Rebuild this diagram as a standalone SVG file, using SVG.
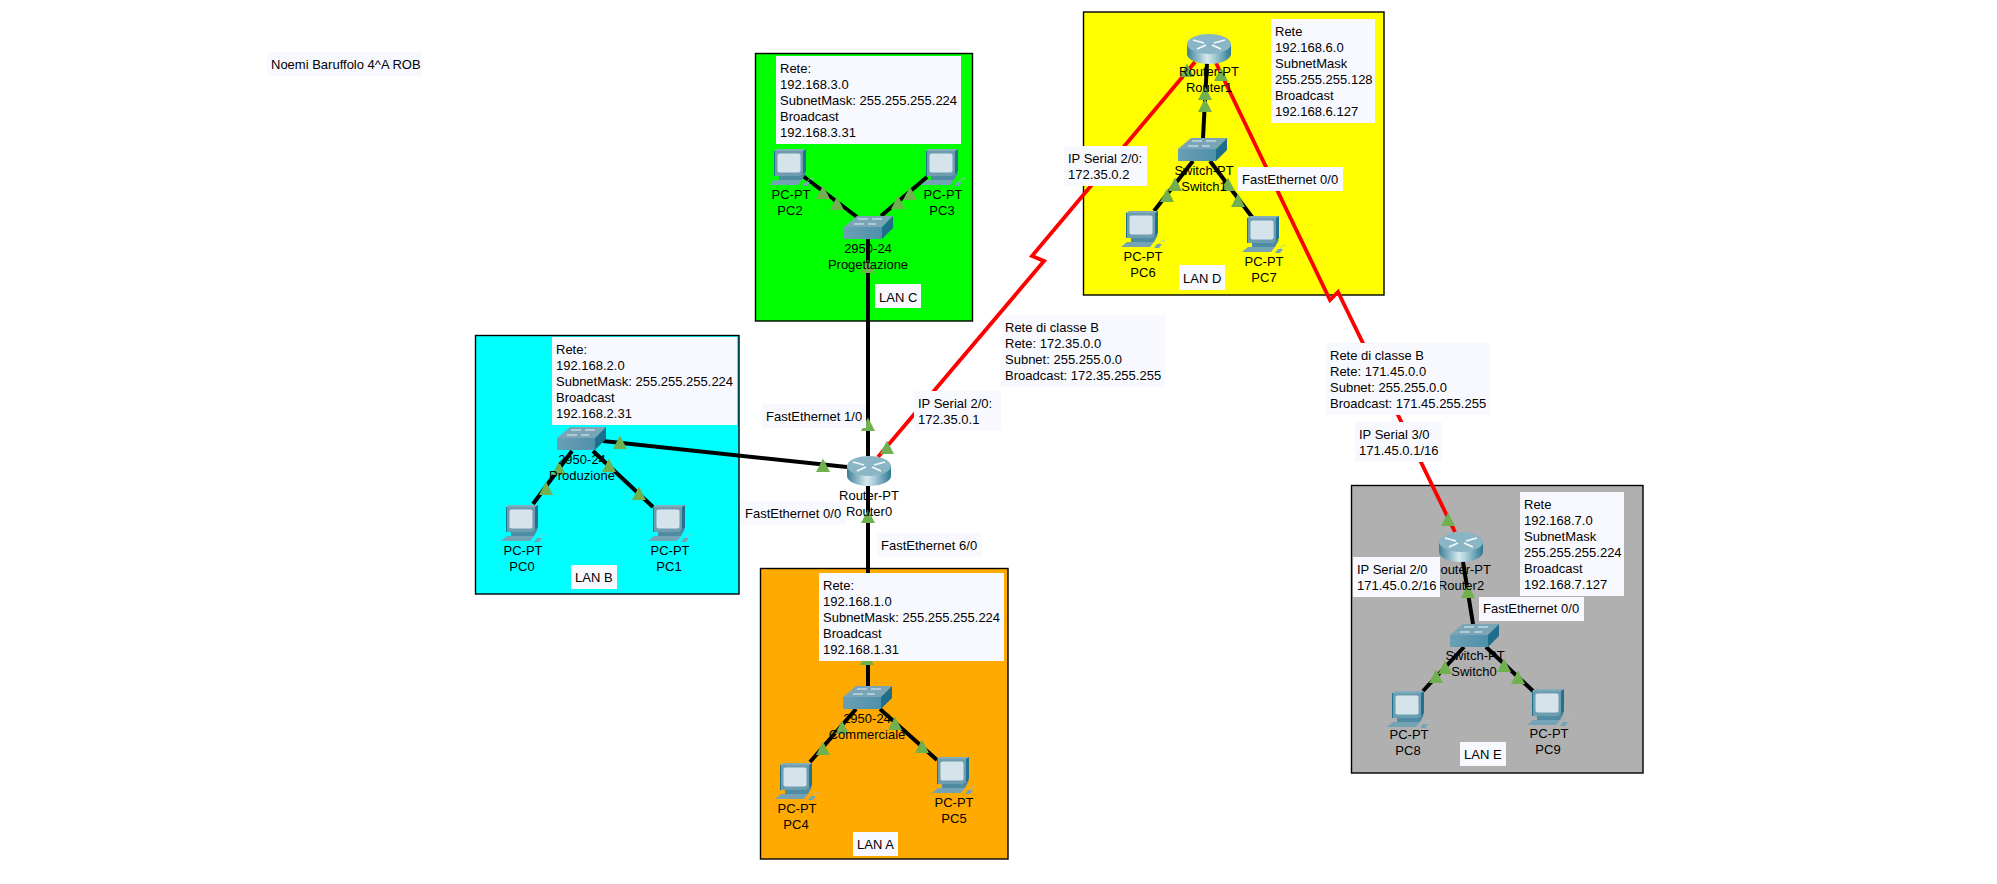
<svg xmlns="http://www.w3.org/2000/svg" width="1997" height="884" viewBox="0 0 1997 884">
<style>
text{font-family:"Liberation Sans",Arial,sans-serif;font-size:13px;fill:#000}
.c{text-anchor:middle}
.note{fill:#f8f9ff}
.lan{stroke:#000;stroke-width:1.4}
.eth{stroke:#000;stroke-width:4;fill:none}
.ser{stroke:#f00;stroke-width:3.8;fill:none;stroke-linejoin:miter}
.tri{fill:#70b04e}
</style>
<defs>
<linearGradient id="rg" x1="0" x2="1" y1="0" y2="0"><stop offset="0" stop-color="#3d7f96"/><stop offset=".45" stop-color="#d5e8ee"/><stop offset=".62" stop-color="#a9cdd8"/><stop offset="1" stop-color="#2d7a93"/></linearGradient>
<linearGradient id="sg" x1="0" x2="1" y1="0" y2="0"><stop offset="0" stop-color="#6b9fb3"/><stop offset="1" stop-color="#4e90aa"/></linearGradient>
<polygon id="t" class="tri" points="-7,0 7,0 0,-13.500"/>
<g id="pc">
<polygon points="5,2 33,2 36,0 37,0 37,22 34,27 5,27" fill="#1f7391"/>
<polygon points="5,2 8,0 37,0 34,2" fill="#82acbc"/>
<rect x="6" y="2" width="28" height="25" fill="#6e9db0"/>
<rect x="8.500" y="4.500" width="23" height="19" rx="2" fill="#d5e3ea"/>
<polygon points="10,27 31,27 33,25 37,24 33,31 10,31" fill="#4f8ba3"/>
<polygon points="6,31 33,31 29,36 0,36" fill="#75a3b6"/>
<polygon points="36,33 41,33 38,37 33,37" fill="#75a3b6"/>
<path d="M38,33 C40,29 44,28 44,31" fill="none" stroke="#a6c2cc" stroke-width=".8"/>
</g>
<g id="sw">
<polygon points="0,11 13,0 49,0 38,11" fill="#7aa5b7"/>
<polygon points="38,11 49,0 49,12 38,23" fill="#1f6f8c"/>
<rect y="11" width="38" height="12" fill="url(#sg)"/>
<path d="M14,3H24M28,3H38M10,8H20M24,8H32" stroke="#e8f2f5" stroke-width="1.200"/>
</g>
<g id="rt">
<path d="M0,10V20A22,10 0 0 0 44,20V10Z" fill="url(#rg)"/>
<ellipse cx="22" cy="10" rx="22" ry="10" fill="#8ab5c5"/>
<path d="M6,6L17,9M38,6L27,9M10,15L19,11M34,15L25,11" stroke="#f4f9fb" stroke-width="1.800" fill="none"/>
</g>
</defs>
<rect width="1997" height="884" fill="#fff"/>

<g id="lans">
<rect id="lan-b" class="lan" x="475.500" y="335.500" width="263.500" height="258.500" fill="#0ff"/>
<rect id="lan-c" class="lan" x="755.500" y="53.500" width="217" height="267.500" fill="#0f0"/>
<rect id="lan-a" class="lan" x="760.500" y="568.500" width="247.500" height="290.500" fill="#fa0"/>
<rect id="lan-d" class="lan" x="1083.500" y="12" width="300.500" height="283" fill="#ff0"/>
<rect id="lan-e" class="lan" x="1351.500" y="485.500" width="291.500" height="287.500" fill="#b0b0b0"/>
</g>

<g id="connectors">
<path class="eth" d="M572,451L533,504"/>
<path class="eth" d="M593,451L653,507"/>
<path class="eth" d="M603,441L847,467"/>
<path class="eth" d="M868,239V456"/>
<path class="eth" d="M868,486V686"/>
<path class="eth" d="M803,176L857,217"/>
<path class="eth" d="M927,177L881,216"/>
<path class="eth" d="M856,709L810,762"/>
<path class="eth" d="M880,709L937,760"/>
<path class="eth" d="M1207,63L1203,138"/>
<path class="eth" d="M1193,161L1154,211"/>
<path class="eth" d="M1210,161L1252,217"/>
<path class="eth" d="M1463,562L1473,624"/>
<path class="eth" d="M1464,647L1423,691"/>
<path class="eth" d="M1486,647L1533,691"/>
<path class="ser" d="M878,457L1044,261L1032,256L1195,62"/>
<path class="ser" d="M1216,63L1330,300L1338,292L1455,532"/>
<use href="#t" x="620" y="449"/><use href="#t" x="609" y="472"/><use href="#t" x="559" y="475"/><use href="#t" x="546" y="495"/><use href="#t" x="639" y="500"/>
<use href="#t" x="823" y="472"/><use href="#t" x="868" y="431"/><use href="#t" x="887" y="454"/><use href="#t" x="868" y="523"/>
<use href="#t" x="867" y="665"/><use href="#t" x="842" y="734"/><use href="#t" x="823" y="755"/><use href="#t" x="895" y="730"/><use href="#t" x="922" y="753"/>
<use href="#t" x="823" y="199"/><use href="#t" x="837" y="210"/><use href="#t" x="898" y="209"/><use href="#t" x="910" y="200"/><use href="#t" x="868" y="273"/>
<use href="#t" x="1187" y="77"/><use href="#t" x="1221" y="81"/><use href="#t" x="1205" y="100"/><use href="#t" x="1205" y="112"/><use href="#t" x="1175" y="191"/><use href="#t" x="1167" y="202"/><use href="#t" x="1228" y="191"/><use href="#t" x="1238" y="207"/>
<use href="#t" x="1448" y="526"/><use href="#t" x="1468" y="598"/><use href="#t" x="1445" y="674"/><use href="#t" x="1436" y="683"/><use href="#t" x="1504" y="672"/><use href="#t" x="1518" y="684"/>
</g>

<g id="nodes">
<g id="pc0"><use href="#pc" x="501" y="505"/><text class="c" x="523" y="555">PC-PT</text><text class="c" x="522" y="571">PC0</text></g>
<g id="pc1"><use href="#pc" x="648" y="505"/><text class="c" x="670" y="555">PC-PT</text><text class="c" x="669" y="571">PC1</text></g>
<g id="pc2"><use href="#pc" x="769" y="149"/><text class="c" x="791" y="199">PC-PT</text><text class="c" x="790" y="215">PC2</text></g>
<g id="pc3"><use href="#pc" x="921" y="149"/><text class="c" x="943" y="199">PC-PT</text><text class="c" x="942" y="215">PC3</text></g>
<g id="pc4"><use href="#pc" x="775" y="763"/><text class="c" x="797" y="813">PC-PT</text><text class="c" x="796" y="829">PC4</text></g>
<g id="pc5"><use href="#pc" x="932" y="757"/><text class="c" x="954" y="807">PC-PT</text><text class="c" x="954" y="823">PC5</text></g>
<g id="pc6"><use href="#pc" x="1121" y="211"/><text class="c" x="1143" y="261">PC-PT</text><text class="c" x="1143" y="277">PC6</text></g>
<g id="pc7"><use href="#pc" x="1242" y="216"/><text class="c" x="1264" y="266">PC-PT</text><text class="c" x="1264" y="282">PC7</text></g>
<g id="pc8"><use href="#pc" x="1387" y="691"/><text class="c" x="1409" y="739">PC-PT</text><text class="c" x="1408" y="755">PC8</text></g>
<g id="pc9"><use href="#pc" x="1527" y="689"/><text class="c" x="1549" y="738">PC-PT</text><text class="c" x="1548" y="754">PC9</text></g>
<g id="produzione"><use href="#sw" x="557" y="427"/><text class="c" x="582" y="464">2950-24</text><text class="c" x="582" y="480">Produzione</text></g>
<g id="progettazione"><use href="#sw" x="844" y="216"/><text class="c" x="868" y="253">2950-24</text><text class="c" x="868" y="269">Progettazione</text></g>
<g id="commerciale"><use href="#sw" x="843" y="686"/><text class="c" x="867" y="723">2950-24</text><text class="c" x="867" y="739">Commerciale</text></g>
<g id="switch1"><use href="#sw" x="1178" y="138"/><text class="c" x="1204" y="175">Switch-PT</text><text class="c" x="1204" y="191">Switch1</text></g>
<g id="switch0"><use href="#sw" x="1450" y="624"/><text class="c" x="1475" y="660">Switch-PT</text><text class="c" x="1474" y="676">Switch0</text></g>
<g id="router0"><use href="#rt" x="847" y="456"/><text class="c" x="869" y="500">Router-PT</text><text class="c" x="869" y="516">Router0</text></g>
<g id="router1"><use href="#rt" x="1187" y="34"/><text class="c" x="1209" y="76">Router-PT</text><text class="c" x="1209" y="92">Router1</text></g>
<g id="router2"><use href="#rt" x="1439" y="532"/><text class="c" x="1461" y="574">Router-PT</text><text class="c" x="1461" y="590">Router2</text></g>
</g>

<g id="notes">
<g id="note-author"><rect class="note" x="267" y="52" width="155" height="24"/><text x="271" y="69">Noemi Baruffolo 4^A ROB</text></g>
<g id="note-lan-b"><rect class="note" x="552" y="337" width="185" height="88"/><text x="556" y="354">Rete:<tspan x="556" dy="16">192.168.2.0</tspan><tspan x="556" dy="16">SubnetMask: 255.255.255.224</tspan><tspan x="556" dy="16">Broadcast</tspan><tspan x="556" dy="16">192.168.2.31</tspan></text></g>
<g id="note-lan-c"><rect class="note" x="776" y="56" width="185" height="88"/><text x="780" y="73">Rete:<tspan x="780" dy="16">192.168.3.0</tspan><tspan x="780" dy="16">SubnetMask: 255.255.255.224</tspan><tspan x="780" dy="16">Broadcast</tspan><tspan x="780" dy="16">192.168.3.31</tspan></text></g>
<g id="note-lan-a"><rect class="note" x="819" y="573" width="185" height="88"/><text x="823" y="590">Rete:<tspan x="823" dy="16">192.168.1.0</tspan><tspan x="823" dy="16">SubnetMask: 255.255.255.224</tspan><tspan x="823" dy="16">Broadcast</tspan><tspan x="823" dy="16">192.168.1.31</tspan></text></g>
<g id="note-lan-d"><rect class="note" x="1271" y="19" width="104" height="104"/><text x="1275" y="36">Rete<tspan x="1275" dy="16">192.168.6.0</tspan><tspan x="1275" dy="16">SubnetMask</tspan><tspan x="1275" dy="16">255.255.255.128</tspan><tspan x="1275" dy="16">Broadcast</tspan><tspan x="1275" dy="16">192.168.6.127</tspan></text></g>
<g id="note-lan-e"><rect class="note" x="1520" y="492" width="104" height="104"/><text x="1524" y="509">Rete<tspan x="1524" dy="16">192.168.7.0</tspan><tspan x="1524" dy="16">SubnetMask</tspan><tspan x="1524" dy="16">255.255.255.224</tspan><tspan x="1524" dy="16">Broadcast</tspan><tspan x="1524" dy="16">192.168.7.127</tspan></text></g>
<g id="label-lan-b"><rect class="note" x="571" y="565" width="46" height="24"/><text x="575" y="582">LAN B</text></g>
<g id="label-lan-c"><rect class="note" x="875" y="284" width="46" height="24"/><text x="879" y="302">LAN C</text></g>
<g id="label-lan-a"><rect class="note" x="853" y="832" width="45" height="24"/><text x="857" y="849">LAN A</text></g>
<g id="label-lan-d"><rect class="note" x="1179" y="265" width="46" height="25"/><text x="1183" y="283">LAN D</text></g>
<g id="label-lan-e"><rect class="note" x="1460" y="742" width="46" height="24"/><text x="1464" y="759">LAN E</text></g>
<g id="label-fe10"><rect class="note" x="762" y="404" width="104" height="24"/><text x="766" y="421">FastEthernet 1/0</text></g>
<g id="label-fe00-a"><rect class="note" x="741" y="501" width="105" height="24"/><text x="745" y="518">FastEthernet 0/0</text></g>
<g id="label-fe60"><rect class="note" x="877" y="533" width="105" height="24"/><text x="881" y="550">FastEthernet 6/0</text></g>
<g id="label-fe00-d"><rect class="note" x="1238" y="167" width="105" height="24"/><text x="1242" y="184">FastEthernet 0/0</text></g>
<g id="label-fe00-e"><rect class="note" x="1479" y="597" width="105" height="24"/><text x="1483" y="613">FastEthernet 0/0</text></g>
<g id="label-ser-r1"><rect class="note" x="1064" y="146" width="83" height="40"/><text x="1068" y="163">IP Serial 2/0:<tspan x="1068" dy="16">172.35.0.2</tspan></text></g>
<g id="label-ser-r0"><rect class="note" x="914" y="391" width="87" height="40"/><text x="918" y="408">IP Serial 2/0:<tspan x="918" dy="16">172.35.0.1</tspan></text></g>
<g id="label-net-172"><rect class="note" x="1001" y="315" width="164" height="72"/><text x="1005" y="332">Rete di classe B<tspan x="1005" dy="16">Rete: 172.35.0.0</tspan><tspan x="1005" dy="16">Subnet: 255.255.0.0</tspan><tspan x="1005" dy="16">Broadcast: 172.35.255.255</tspan></text></g>
<g id="label-net-171"><rect class="note" x="1326" y="343" width="164" height="72"/><text x="1330" y="360">Rete di classe B<tspan x="1330" dy="16">Rete: 171.45.0.0</tspan><tspan x="1330" dy="16">Subnet: 255.255.0.0</tspan><tspan x="1330" dy="16">Broadcast: 171.45.255.255</tspan></text></g>
<g id="label-ser30"><rect class="note" x="1355" y="422" width="87" height="40"/><text x="1359" y="439">IP Serial 3/0<tspan x="1359" dy="16">171.45.0.1/16</tspan></text></g>
<g id="label-ser20"><rect class="note" x="1353" y="557" width="87" height="40"/><text x="1357" y="574">IP Serial 2/0<tspan x="1357" dy="16">171.45.0.2/16</tspan></text></g>
</g>
</svg>
